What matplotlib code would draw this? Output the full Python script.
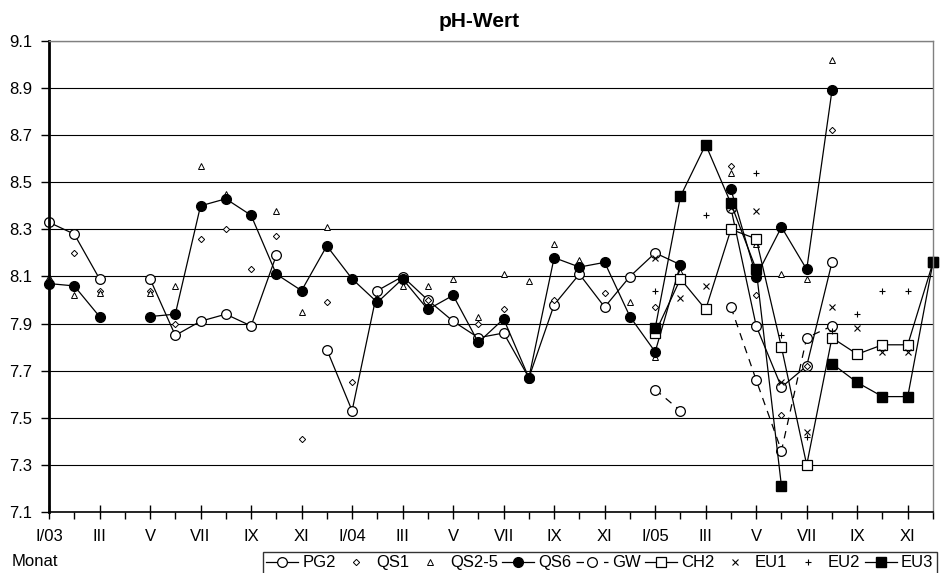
import numpy as np
import matplotlib
matplotlib.use("Agg")
from matplotlib import pyplot as plt

nan = np.nan

# month index 0 = I/03 ... 35 = XII/05
months = np.arange(36)
tick_labels = ['I/03', 'III', 'V', 'VII', 'IX', 'XI',
               'I/04', 'III', 'V', 'VII', 'IX', 'XI',
               'I/05', 'III', 'V', 'VII', 'IX', 'XI']

pg2 = [8.33, 8.28, 8.09, nan, 8.09, 7.85, 7.91, 7.94, 7.89, 8.19, nan, 7.79,
       7.53, 8.04, 8.10, 8.00, 7.91, 7.84, 7.86, 7.67, 7.98, 8.11, 7.97, 8.10,
       8.20, 8.15, nan, 8.39, 7.89, 7.63, 7.72, 8.16, nan, nan, nan, nan]
qs1 = [nan, 8.20, 8.04, nan, 8.04, 7.90, 8.26, 8.30, 8.13, 8.27, 7.41, 7.99,
       7.65, nan, nan, 8.00, nan, 7.90, 7.96, nan, 8.00, nan, 8.03, nan,
       7.97, nan, nan, 8.57, 8.02, 7.51, 7.72, 8.72, nan, nan, nan, nan]
qs25 = [8.10, 8.02, 8.03, nan, 8.03, 8.06, 8.57, 8.45, nan, 8.38, 7.95, 8.31,
        nan, 8.01, 8.06, 8.06, 8.09, 7.93, 8.11, 8.08, 8.24, 8.17, nan, 7.99,
        7.76, 8.12, nan, 8.54, 8.24, 8.11, 8.09, 9.02, nan, nan, nan, nan]
qs6 = [8.07, 8.06, 7.93, nan, 7.93, 7.94, 8.40, 8.43, 8.36, 8.11, 8.04, 8.23,
       8.09, 7.99, 8.09, 7.96, 8.02, 7.82, 7.92, 7.67, 8.18, 8.14, 8.16, 7.93,
       7.78, 8.15, nan, 8.47, 8.10, 8.31, 8.13, 8.89, nan, nan, nan, nan]
gw = [nan] * 24 + [7.62, 7.53, nan, 7.97, 7.66, 7.36, 7.84, 7.89, nan, nan, nan, nan]
ch2 = [nan] * 24 + [7.86, 8.09, 7.96, 8.30, 8.26, 7.80, 7.30, 7.84, 7.77, 7.81, 7.81, 8.16]
eu1 = [nan] * 24 + [8.18, 8.01, 8.06, 8.39, 8.38, 7.65, 7.44, 7.97, 7.88, 7.78, 7.78, nan]
eu2 = [nan] * 24 + [8.04, nan, 8.36, nan, 8.54, 7.85, 7.42, 7.87, 7.94, 8.04, 8.04, 8.18]
eu3 = [nan] * 24 + [7.88, 8.44, 8.66, 8.41, 8.13, 7.21, nan, 7.73, 7.65, 7.59, 7.59, 8.16]

plt.rcParams['font.family'] = ['Liberation Sans', 'DejaVu Sans']
plt.rcParams['font.size'] = 12

fig = plt.figure(figsize=(9.51, 5.73), dpi=100)
ax = fig.add_axes([49/951, 1 - 512/573, (933 - 49)/951, (512 - 41)/573])

k = dict(color='black', lw=0.9, mec='black', clip_on=False)
ax.plot(months, pg2, marker='o', ms=7, mfc='white', mew=0.9, label='PG2', **k)
ax.plot(months, qs1, ls='none', marker='D', ms=3.2, mfc='white', mew=0.7, label='QS1',
        color='black', clip_on=False)
ax.plot(months, qs25, ls='none', marker='^', ms=4.5, mfc='white', mew=0.7, label='QS2-5',
        color='black', clip_on=False)
ax.plot(months, qs6, marker='o', ms=7, mfc='black', label='QS6', **k)
ax.plot(months, gw, ls=(0, (6, 5)), marker='o', ms=7, mfc='white', mew=0.9, label='GW', **k)
ax.plot(months, ch2, marker='s', ms=7, mfc='white', mew=0.9, label='CH2', **k)
ax.plot(months, eu1, ls='none', marker='x', ms=4, mew=0.8, color='black', label='EU1', clip_on=False)
ax.plot(months, eu2, ls='none', marker='+', ms=5, mew=0.8, color='black', label='EU2', clip_on=False)
ax.plot(months, eu3, marker='s', ms=6.5, mfc='black', label='EU3', **k)

ax.set_xlim(0, 35)
ax.set_ylim(7.1, 9.1)
yt = np.arange(7.1, 9.11, 0.2)
ax.set_yticks(yt)
ax.set_yticklabels(['%.1f' % v for v in yt])
ax.set_xticks(np.arange(0, 35, 2))
ax.set_xticklabels(tick_labels)
ax.set_xticks(months, minor=True)
ax.yaxis.grid(True, color='black', lw=0.8)
ax.set_axisbelow(True)

ax.spines['left'].set_linewidth(2)
ax.spines['bottom'].set_linewidth(1.2)
for s in ['top', 'right']:
    ax.spines[s].set_color('#808080')
    ax.spines[s].set_linewidth(1)

ax.tick_params(axis='x', which='major', direction='inout', length=10, width=1, pad=7)
ax.tick_params(axis='x', which='minor', direction='out', length=5, width=1)
ax.tick_params(axis='y', direction='out', length=6, width=1, pad=6)

fig.text(479/951, 1 - 26.7/573, 'pH-Wert', ha='center', va='baseline',
         fontsize=15, fontweight='bold')
fig.text(12/951, 1 - 566.5/573, 'Monat', ha='left', va='baseline')

leg = fig.legend(loc='upper left', bbox_to_anchor=(263/951, 1 - 552/573),
                 ncol=9, frameon=True, fancybox=False, borderaxespad=0,
                 borderpad=0.2, handlelength=1.9, handletextpad=0.25,
                 columnspacing=0.28)
leg.get_frame().set_edgecolor('black')
leg.get_frame().set_linewidth(1)

fig.savefig('out.png', dpi=100)
